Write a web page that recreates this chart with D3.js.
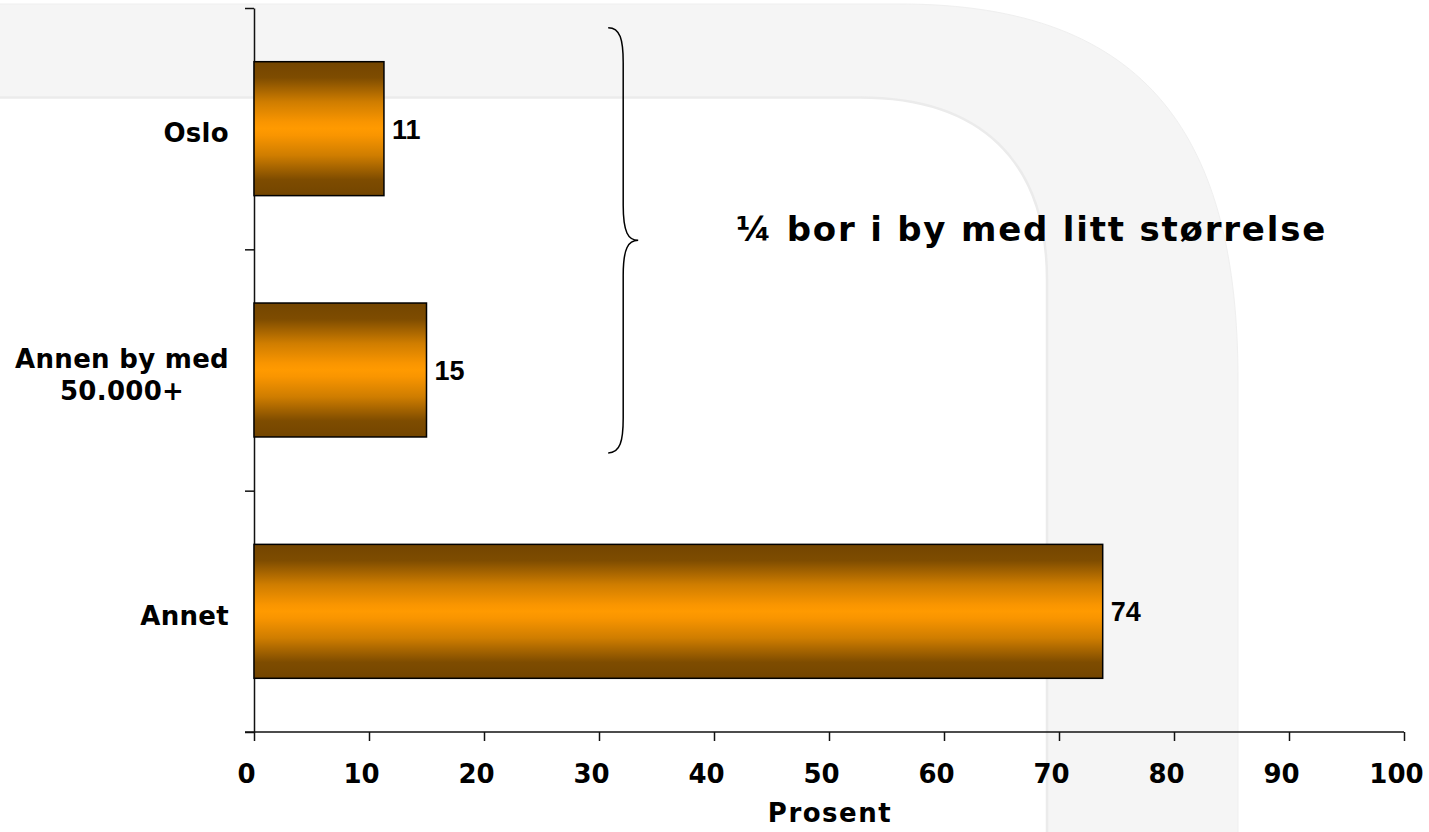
<!DOCTYPE html>
<html>
<head>
<meta charset="utf-8">
<script src="https://cdn.jsdelivr.net/npm/d3@7"></script>
<style>
  body { margin: 0; background: #fff; }
  svg { display: block; }
  text { font-family: "DejaVu Sans", Verdana, sans-serif; font-weight: bold; fill: #000; }
  text.value { font-family: "Liberation Sans", Arial, sans-serif; }
</style>
</head>
<body>
<div id="chart"></div>
<script>
// data
var categories = ["Oslo", "Annen by med\n50.000+", "Annet"];
var values = [11.3, 15.0, 73.8];
var xTicks = [0, 10, 20, 30, 40, 50, 60, 70, 80, 90, 100];
var xTitle = "Prosent";
var note = "¼ bor i by med litt størrelse";
var braceAt = 30.8; // x value where the brace sits

var svgWidth = 1429;
var svgHeight = 832;

var chartMargin = { top: 8, right: 25, bottom: 100, left: 254 };
var chartWidth = svgWidth - chartMargin.left - chartMargin.right;
var chartHeight = svgHeight - chartMargin.top - chartMargin.bottom;

var svg = d3.select("#chart")
  .append("svg")
  .attr("width", svgWidth)
  .attr("height", svgHeight);

// light grey arc in the background
svg.append("path")
  .attr("d", "M0,4 H900 C1150,4 1238,140 1238,380 V832 H1047 V280 C1047,160 980,97 860,97 H0 Z")
  .attr("fill", "#f5f5f5");
svg.append("path")
  .attr("d", "M0,97.5 H860 C980,97.5 1047,160 1047,280 V832")
  .attr("fill", "none")
  .attr("stroke", "#ebebeb")
  .attr("stroke-width", 2.5);
svg.append("path")
  .attr("d", "M0,4 H900 C1150,4 1238,140 1238,380 V832")
  .attr("fill", "none")
  .attr("stroke", "#efefef")
  .attr("stroke-width", 1);

var defs = svg.append("defs");
var grad = defs.append("linearGradient")
  .attr("id", "barGrad")
  .attr("x1", 0).attr("y1", 0).attr("x2", 0).attr("y2", 1);
[[0, "#734500"], [0.12, "#7e4c00"], [0.3, "#cf7d00"], [0.45, "#f99500"], [0.5, "#ff9a00"],
 [0.55, "#f99500"], [0.7, "#cf7d00"], [0.88, "#7e4c00"], [1, "#734500"]].forEach(function(s) {
  grad.append("stop").attr("offset", s[0]).attr("stop-color", s[1]);
});

var chartGroup = svg.append("g")
  .attr("transform", `translate(${chartMargin.left}, ${chartMargin.top})`);

var xScale = d3.scaleLinear()
  .domain([0, 100])
  .range([0, 1150]);

var yScale = d3.scaleBand()
  .domain(categories)
  .range([0, chartHeight])
  .paddingInner(0.445)
  .paddingOuter(0.2225);

// category boundaries for the y ticks
var yEdges = d3.scaleLinear()
  .domain([0, categories.length])
  .range([0, chartHeight]);

chartGroup.append("g")
  .call(d3.axisLeft(yEdges).tickValues(d3.range(categories.length + 1)).tickFormat("").tickSize(9).tickSizeOuter(0))
  .call(g => g.selectAll("line, path").attr("stroke", "#111").attr("stroke-width", 1.5));

var xAxis = chartGroup.append("g")
  .attr("transform", `translate(0, ${chartHeight})`)
  .call(d3.axisBottom(xScale).tickValues(xTicks).tickSize(9).tickSizeOuter(0));
xAxis.selectAll("line, path").attr("stroke", "#111").attr("stroke-width", 1.5);
xAxis.select(".domain").attr("d", `M-9,0H${xScale(100)}`);
xAxis.selectAll("text")
  .attr("y", 51)
  .attr("dy", 0)
  .attr("dx", -8)
  .style("font-size", "26px")
  .style("font-family", "'DejaVu Sans', Verdana, sans-serif")
  .style("font-weight", "bold")
  .attr("fill", "#000");

chartGroup.append("text")
  .attr("x", chartWidth / 2 + 1)
  .attr("y", chartHeight + 90)
  .attr("text-anchor", "middle")
  .style("font-size", "26px")
  .style("letter-spacing", "1.5px")
  .text(xTitle);

// bars
chartGroup.selectAll("rect.bar")
  .data(values)
  .enter()
  .append("rect")
  .attr("class", "bar")
  .attr("x", 0)
  .attr("y", (d, i) => yScale(categories[i]))
  .attr("width", d => xScale(d))
  .attr("height", yScale.bandwidth())
  .attr("fill", "url(#barGrad)")
  .attr("stroke", "#000")
  .attr("stroke-width", 1.5);

// value labels
chartGroup.selectAll("text.value")
  .data(values)
  .enter()
  .append("text")
  .attr("class", "value")
  .attr("x", d => xScale(d) + 8)
  .attr("y", (d, i) => yScale(categories[i]) + yScale.bandwidth() / 2 + 10)
  .style("font-size", "27px")
  .text(d => d3.format(".0f")(d));

// category labels, multi-line ones centred in a right aligned block
var labelRight = -25;
categories.forEach(function(c) {
  var lines = c.split("\n");
  var cy = yScale(c) + yScale.bandwidth() / 2 + 13.5;
  var t = chartGroup.append("text")
    .attr("text-anchor", "middle")
    .style("font-size", "26px")
    .style("letter-spacing", "0.3px");
  var spans = lines.map(function(l, j) {
    return t.append("tspan")
      .attr("y", cy + (j - (lines.length - 1) / 2) * 32)
      .text(l);
  });
  var w = d3.max(spans, s => s.node().getComputedTextLength());
  spans.forEach(s => s.attr("x", labelRight - w / 2));
});

// brace over the first two categories
var bx = xScale(braceAt);
var bTop = yScale(categories[0]) - 34;
var bBot = yScale(categories[1]) + yScale.bandwidth() + 16;
var bMid = (bTop + bBot) / 2;
chartGroup.append("path")
  .attr("d", `M${bx},${bTop} C${bx + 12},${bTop} ${bx + 15},${bTop + 12} ${bx + 15},${bTop + 35}
    V${bMid - 35} C${bx + 15},${bMid - 8} ${bx + 20},${bMid} ${bx + 30},${bMid}
    C${bx + 20},${bMid} ${bx + 15},${bMid + 8} ${bx + 15},${bMid + 35}
    V${bBot - 35} C${bx + 15},${bBot - 12} ${bx + 12},${bBot} ${bx},${bBot}`)
  .attr("fill", "none")
  .attr("stroke", "#000")
  .attr("stroke-width", 1.5);

chartGroup.append("text")
  .attr("x", 736 - chartMargin.left)
  .attr("y", 241 - chartMargin.top)
  .style("font-size", "34px")
  .style("letter-spacing", "1.8px")
  .text(note);
</script>
</body>
</html>
